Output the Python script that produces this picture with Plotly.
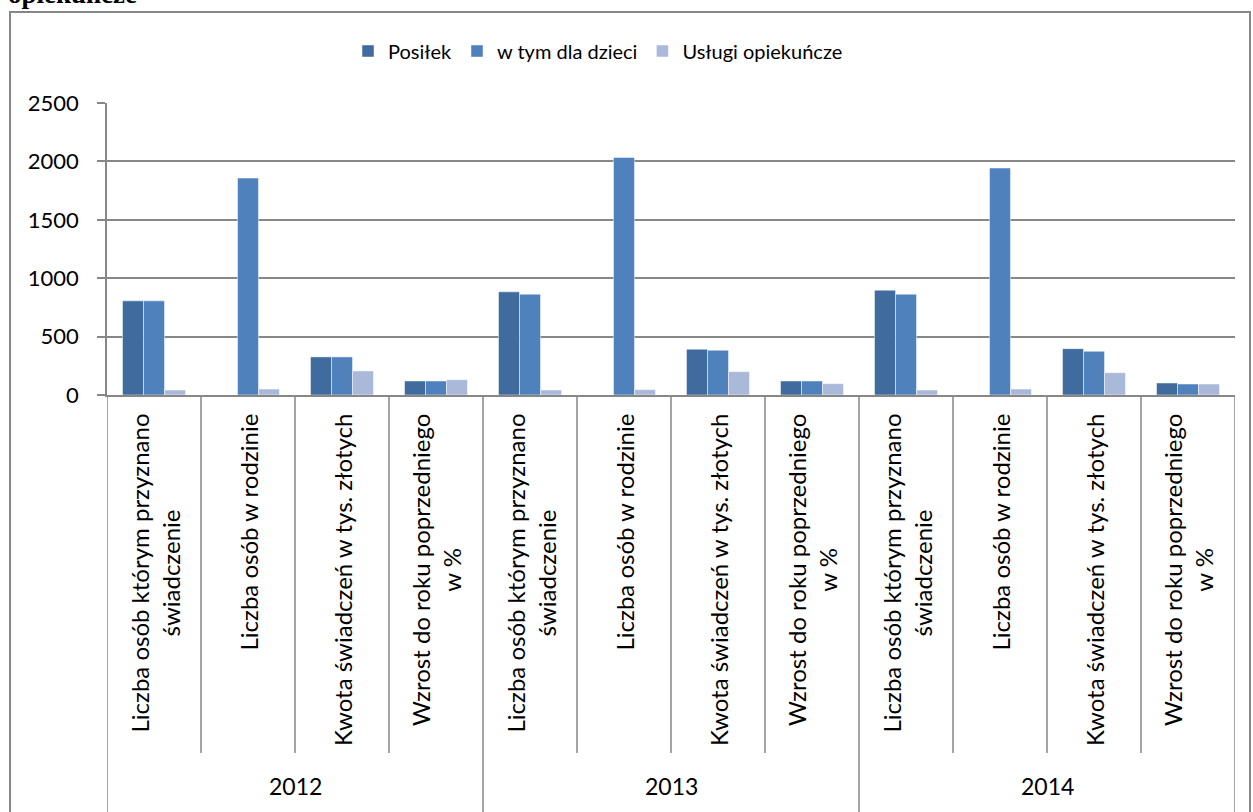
import plotly.graph_objects as go

years = ["2012", "2013", "2014"]
measures = [
    "Liczba osób którym przyznano<br>świadczenie",
    "Liczba osób w rodzinie",
    "Kwota świadczeń w tys. złotych",
    "Wzrost do roku poprzedniego<br>w %",
]
series_names = ["Posiłek", "w tym dla dzieci", "Usługi opiekuńcze"]
posilek = [806, None, 326, 120, 883, None, 392, 120, 897, None, 397, 103]
dzieci = [806, 1857, 326, 120, 863, 2034, 383, 120, 863, 1943, 374, 94]
uslugi = [43, 51, 206, 131, 43, 46, 200, 97, 43, 51, 191, 94]
colors = ["#3F6B9E", "#4F81BD", "#AAB9D9"]
y_ticks = [0, 500, 1000, 1500, 2000, 2500]
title_text = "opiekuńcze"

categories = [f"{y}|{m}" for y in years for m in measures]

FONT = "Lato"
GRID = "#878787"
W, H = 1253, 812
L, R, T, B = 107, 18, 103, 417
pw, ph = W - L - R, H - T - B


def px(x):
    return (x - L) / pw


def py(y):
    return (H - B - y) / ph


fig = go.Figure()
for name, vals, col in zip(series_names, [posilek, dzieci, uslugi], colors):
    fig.add_trace(go.Bar(
        x=categories, y=vals, name=name,
        marker=dict(color=col, line=dict(color="rgba(255,255,255,0.6)", width=0.8)),
    ))

fig.update_layout(
    width=W, height=H,
    margin=dict(l=L, r=R, t=T, b=B, autoexpand=False),
    paper_bgcolor="white", plot_bgcolor="white",
    barmode="group", bargap=0.33, bargroupgap=0,
    font=dict(family=FONT, size=23, color="black"),
    legend=dict(orientation="h", x=px(598), xanchor="center", y=py(51), yanchor="middle",
                font=dict(family=FONT, size=20, color="black"), traceorder="normal",
                bgcolor="rgba(0,0,0,0)"),
    xaxis=dict(
        type="category", range=[-0.5, len(categories) - 0.5],
        showticklabels=False, ticks="", showgrid=False, automargin=False,
        showline=True, linecolor=GRID, linewidth=1.5,
    ),
    yaxis=dict(
        range=[0, 2500], tickvals=y_ticks, automargin=False,
        showgrid=True, gridcolor=GRID, gridwidth=1.5,
        showline=True, linecolor=GRID, linewidth=1.5,
        ticks="outside", ticklen=8, tickcolor=GRID, tickwidth=1.5,
        ticklabelstandoff=14,
        tickfont=dict(family=FONT, size=22, color="black"),
        zeroline=False,
    ),
    showlegend=True,
)

# category labels (rotated) under each bar group
for i, cat in enumerate(categories):
    fig.add_annotation(text=measures[i % len(measures)], x=cat, xref="x",
                       y=py(412), yref="paper", yanchor="top", xanchor="center",
                       textangle=-90, align="center", showarrow=False,
                       font=dict(family=FONT, size=24, color="black"))

# year labels
n = len(measures)
for k, yr in enumerate(years):
    fig.add_annotation(text=yr, x=k * n + (n - 1) / 2, xref="x",
                       y=py(786), yref="paper", yanchor="middle", xanchor="center",
                       showarrow=False, font=dict(family=FONT, size=23, color="black"))

# dividers between categories
for i in range(len(categories) + 1):
    outer = (i % n == 0)
    fig.add_shape(type="line", xref="x", yref="paper",
                  x0=i - 0.5, x1=i - 0.5, y0=py(395), y1=py(820 if outer else 753),
                  line=dict(color=GRID, width=1.5))

# outer frame
fig.add_shape(type="rect", xref="paper", yref="paper",
              x0=px(10), x1=px(1250), y0=py(840), y1=py(12),
              line=dict(color=GRID, width=2), fillcolor="rgba(0,0,0,0)", layer="below")

fig.add_annotation(text="<b>" + title_text + "</b>", xref="paper", yref="paper",
                   x=px(6), xanchor="left", y=py(11), yanchor="bottom", showarrow=False,
                   font=dict(family="Liberation Serif", size=27, color="black"))

fig.write_html("out.html", config={"displayModeBar": False},
               post_script="document.body.style.margin='0';document.body.style.overflow='hidden';")
